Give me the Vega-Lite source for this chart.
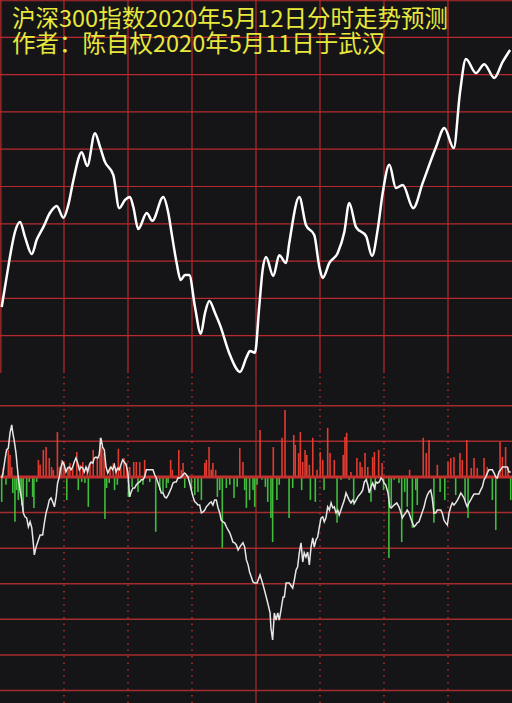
{
  "$schema": "https://vega.github.io/schema/vega-lite/v6.json",
  "background": "#151518",
  "padding": 0,
  "autosize": {"type": "none"},
  "width": 512,
  "height": 703,
  "config": {"view": {"stroke": null}},
  "title": {
    "text": "沪深300指数2020年5月12日分时走势预测",
    "subtitle": "作者：陈自权2020年5月11日于武汉",
    "anchor": "start", "orient": "top", "frame": "group",
    "offset": -57, "dx": 12,
    "font": "Noto Sans CJK SC", "fontSize": 23.5, "fontWeight": "normal", "color": "#e8e83c",
    "subtitleFont": "Noto Sans CJK SC", "subtitleFontSize": 23.5, "subtitleColor": "#e8e83c", "subtitlePadding": 1.5
  },
  "datasets": {
    "topV": [{"g": 0.4}, {"g": 30}, {"g": 60}, {"g": 90}, {"g": 120}, {"g": 150}, {"g": 180}, {"g": 210}],
    "topH": [{"g": 1}, {"g": 2}, {"g": 3}, {"g": 4}, {"g": 5}, {"g": 6}, {"g": 7}, {"g": 8}, {"g": 9}, {"g": 9.98}],
    "lowV": [{"g": 30}, {"g": 60}, {"g": 90}, {"g": 120}, {"g": 150}, {"g": 180}, {"g": 210}],
    "lowH": [{"g": -6}, {"g": -5}, {"g": -4}, {"g": -3}, {"g": -2}, {"g": -1}, {"g": 1}, {"g": 2}],
    "top": [
      {"t":0.8,"v":1.77},{"t":3.1,"v":2.57},{"t":5.5,"v":3.38},{"t":7.0,"v":3.78},{"t":9.4,"v":4.05},{"t":11.7,"v":3.65},{"t":14.9,"v":3.19},{"t":17.2,"v":3.57},{"t":20.3,"v":3.91},{"t":23.4,"v":4.29},{"t":26.6,"v":4.48},{"t":29.7,"v":4.16},{"t":32.0,"v":4.50},{"t":34.4,"v":5.17},{"t":38.3,"v":5.92},{"t":40.9,"v":5.55},{"t":44.5,"v":6.43},{"t":46.9,"v":6.06},{"t":49.2,"v":5.66},{"t":53.1,"v":5.31},{"t":55.9,"v":4.42},{"t":58.6,"v":4.64},{"t":60.9,"v":4.72},{"t":62.5,"v":4.45},{"t":64.8,"v":3.86},{"t":68.8,"v":4.29},{"t":71.4,"v":4.08},{"t":76.5,"v":4.72},{"t":78.9,"v":4.29},{"t":80.5,"v":3.73},{"t":82.8,"v":2.95},{"t":84.7,"v":2.49},{"t":86.7,"v":2.63},{"t":88.7,"v":2.63},{"t":91.4,"v":1.77},{"t":94.1,"v":1.05},{"t":96.1,"v":1.61},{"t":98.1,"v":1.93},{"t":100.8,"v":1.61},{"t":103.1,"v":1.29},{"t":107.8,"v":0.48},{"t":112.5,"v":0.03},{"t":115.6,"v":0.43},{"t":117.2,"v":0.59},{"t":119.5,"v":0.54},{"t":121.5,"v":1.77},{"t":123.1,"v":2.76},{"t":124.7,"v":3.11},{"t":128.1,"v":2.60},{"t":130.9,"v":3.16},{"t":134.1,"v":2.95},{"t":135.6,"v":3.49},{"t":140.3,"v":4.72},{"t":143.4,"v":3.97},{"t":147.3,"v":3.70},{"t":149.7,"v":2.84},{"t":151.3,"v":2.55},{"t":154.4,"v":2.95},{"t":158.3,"v":3.22},{"t":161.4,"v":3.78},{"t":163.7,"v":4.56},{"t":166.9,"v":3.91},{"t":171.6,"v":3.67},{"t":174.4,"v":3.14},{"t":177.0,"v":3.83},{"t":179.4,"v":4.83},{"t":182.5,"v":5.58},{"t":185.6,"v":4.96},{"t":188.8,"v":5.04},{"t":193.7,"v":4.42},{"t":198.1,"v":5.09},{"t":204.4,"v":6.06},{"t":208.3,"v":6.57},{"t":212.7,"v":6.03},{"t":215.6,"v":7.51},{"t":218.4,"v":8.42},{"t":223.1,"v":8.04},{"t":227.0,"v":8.28},{"t":231.7,"v":7.91},{"t":235.6,"v":8.34},{"t":239.1,"v":8.66}
    ],
    "bars": [
      {"t":1.5,"v":0.25},{"t":3.9,"v":0.76},{"t":4.7,"v":0.62},{"t":5.5,"v":0.28},{"t":18.0,"v":0.48},{"t":18.8,"v":0.34},{"t":20.3,"v":0.76},{"t":21.6,"v":0.84},{"t":23.1,"v":0.53},{"t":24.2,"v":0.28},{"t":25.0,"v":0.20},{"t":26.9,"v":1.26},{"t":27.8,"v":0.28},{"t":28.9,"v":0.48},{"t":30.0,"v":0.42},{"t":31.9,"v":0.28},{"t":32.8,"v":0.39},{"t":34.1,"v":0.25},{"t":36.0,"v":0.70},{"t":37.5,"v":0.34},{"t":38.8,"v":0.42},{"t":40.9,"v":0.28},{"t":42.2,"v":0.42},{"t":43.7,"v":0.76},{"t":45.6,"v":0.53},{"t":46.9,"v":1.10},{"t":47.7,"v":0.84},{"t":48.8,"v":0.67},{"t":51.6,"v":0.28},{"t":53.1,"v":0.39},{"t":54.4,"v":0.25},{"t":55.5,"v":0.79},{"t":56.6,"v":0.28},{"t":58.1,"v":0.53},{"t":59.4,"v":0.39},{"t":60.8,"v":0.28},{"t":62.7,"v":0.42},{"t":63.9,"v":0.42},{"t":65.5,"v":0.42},{"t":67.8,"v":0.48},{"t":80.0,"v":0.48},{"t":80.8,"v":0.20},{"t":83.8,"v":0.76},{"t":85.0,"v":0.20},{"t":85.8,"v":0.39},{"t":96.0,"v":0.39},{"t":96.7,"v":0.48},{"t":98.0,"v":0.84},{"t":99.0,"v":0.20},{"t":99.8,"v":0.39},{"t":101.1,"v":0.20},{"t":112.4,"v":0.81},{"t":113.9,"v":0.42},{"t":121.9,"v":1.32},{"t":128.1,"v":0.84},{"t":132.2,"v":1.10},{"t":133.6,"v":1.88},{"t":137.7,"v":1.18},{"t":138.4,"v":0.90},{"t":140.0,"v":0.67},{"t":140.8,"v":1.26},{"t":141.9,"v":0.42},{"t":143.0,"v":0.76},{"t":143.8,"v":0.62},{"t":145.0,"v":0.34},{"t":146.6,"v":1.10},{"t":148.6,"v":0.20},{"t":150.1,"v":0.70},{"t":151.3,"v":0.48},{"t":153.6,"v":1.38},{"t":154.7,"v":0.67},{"t":156.7,"v":0.48},{"t":160.9,"v":0.62},{"t":161.7,"v":1.12},{"t":162.5,"v":1.24},{"t":164.5,"v":0.14},{"t":167.3,"v":0.53},{"t":168.8,"v":0.42},{"t":169.7,"v":0.28},{"t":171.1,"v":0.67},{"t":172.4,"v":0.28},{"t":174.7,"v":0.56},{"t":175.5,"v":0.70},{"t":177.5,"v":0.76},{"t":179.1,"v":0.39},{"t":192.0,"v":0.20},{"t":198.4,"v":1.10},{"t":199.8,"v":0.67},{"t":201.1,"v":1.04},{"t":205.0,"v":0.34},{"t":210.0,"v":0.42},{"t":211.3,"v":0.53},{"t":212.8,"v":0.56},{"t":215.6,"v":0.67},{"t":216.7,"v":0.48},{"t":218.8,"v":1.04},{"t":220.9,"v":0.25},{"t":222.2,"v":0.53},{"t":223.7,"v":0.25},{"t":226.9,"v":0.53},{"t":228.4,"v":0.28},{"t":234.4,"v":0.98},{"t":235.5,"v":0.56},{"t":237.0,"v":0.84},{"t":238.1,"v":0.28},
      {"t":0.8,"v":-0.70},{"t":2.8,"v":-0.22},{"t":6.0,"v":-0.45},{"t":7.0,"v":-1.26},{"t":7.8,"v":-0.37},{"t":8.6,"v":-0.65},{"t":9.4,"v":-0.37},{"t":10.2,"v":-0.79},{"t":10.9,"v":-0.98},{"t":12.5,"v":-0.56},{"t":13.7,"v":-0.14},{"t":15.3,"v":-0.56},{"t":15.9,"v":-0.87},{"t":17.2,"v":-0.14},{"t":31.3,"v":-0.65},{"t":36.7,"v":-0.37},{"t":38.3,"v":-0.14},{"t":39.8,"v":-0.17},{"t":41.4,"v":-0.84},{"t":49.2,"v":-1.18},{"t":50.0,"v":-0.31},{"t":51.2,"v":-0.17},{"t":53.7,"v":-0.37},{"t":55.0,"v":-0.22},{"t":60.2,"v":-0.56},{"t":61.9,"v":-0.28},{"t":64.7,"v":-0.42},{"t":67.0,"v":-0.22},{"t":70.2,"v":-0.14},{"t":73.0,"v":-1.54},{"t":74.9,"v":-0.37},{"t":76.4,"v":-0.45},{"t":78.0,"v":-0.31},{"t":78.8,"v":-0.17},{"t":86.6,"v":-0.31},{"t":89.7,"v":-0.37},{"t":91.3,"v":-0.51},{"t":92.8,"v":-0.42},{"t":94.4,"v":-0.65},{"t":101.9,"v":-0.56},{"t":103.0,"v":-0.37},{"t":104.2,"v":-1.99},{"t":106.1,"v":-0.31},{"t":107.7,"v":-0.22},{"t":109.7,"v":-0.59},{"t":111.2,"v":-0.28},{"t":114.7,"v":-0.37},{"t":115.5,"v":-0.87},{"t":117.0,"v":-0.65},{"t":118.6,"v":-0.37},{"t":119.4,"v":-0.84},{"t":120.5,"v":-0.22},{"t":122.8,"v":-0.08},{"t":124.4,"v":-0.28},{"t":125.5,"v":-0.70},{"t":127.0,"v":-1.15},{"t":127.8,"v":-1.83},{"t":129.8,"v":-0.65},{"t":130.9,"v":-0.22},{"t":135.5,"v":-1.15},{"t":137.2,"v":-0.31},{"t":141.4,"v":-0.37},{"t":145.5,"v":-0.65},{"t":147.8,"v":-0.70},{"t":151.9,"v":-0.37},{"t":158.0,"v":-1.29},{"t":159.8,"v":-0.08},{"t":163.7,"v":-0.08},{"t":165.8,"v":-0.79},{"t":171.8,"v":-0.14},{"t":173.9,"v":-0.70},{"t":175.9,"v":-0.37},{"t":179.8,"v":-0.37},{"t":182.3,"v":-2.28},{"t":183.4,"v":-0.84},{"t":184.7,"v":-0.08},{"t":187.0,"v":-0.17},{"t":188.3,"v":-1.83},{"t":189.7,"v":-0.42},{"t":190.9,"v":-0.84},{"t":193.3,"v":-1.43},{"t":194.9,"v":-0.37},{"t":195.6,"v":-0.79},{"t":203.4,"v":-1.29},{"t":206.3,"v":-0.42},{"t":208.5,"v":-0.65},{"t":213.6,"v":-0.51},{"t":218.0,"v":-0.65},{"t":219.4,"v":-1.15},{"t":230.8,"v":-0.65},{"t":232.4,"v":-1.49},{"t":239.4,"v":-0.65}
    ],
    "low": [
      {"t":0.8,"v":-0.03},{"t":1.5,"v":0.14},{"t":2.3,"v":0.48},{"t":3.1,"v":0.76},{"t":3.9,"v":0.81},{"t":4.7,"v":1.24},{"t":5.5,"v":1.46},{"t":6.0,"v":1.24},{"t":6.6,"v":1.04},{"t":7.5,"v":0.67},{"t":8.1,"v":0.28},{"t":8.6,"v":-0.03},{"t":9.4,"v":-0.37},{"t":10.2,"v":-0.65},{"t":10.9,"v":-1.01},{"t":11.7,"v":-1.12},{"t":12.5,"v":-1.15},{"t":13.3,"v":-1.40},{"t":14.1,"v":-1.26},{"t":14.9,"v":-1.43},{"t":15.6,"v":-1.85},{"t":16.1,"v":-2.19},{"t":16.9,"v":-1.97},{"t":18.0,"v":-1.77},{"t":18.8,"v":-1.63},{"t":20.0,"v":-1.63},{"t":20.8,"v":-1.29},{"t":21.6,"v":-1.01},{"t":22.4,"v":-0.84},{"t":23.1,"v":-0.65},{"t":23.9,"v":-0.59},{"t":24.7,"v":-0.70},{"t":25.5,"v":-0.84},{"t":26.3,"v":-0.56},{"t":27.0,"v":-0.17},{"t":27.8,"v":0.00},{"t":28.6,"v":0.28},{"t":29.4,"v":0.42},{"t":30.1,"v":0.34},{"t":30.9,"v":0.14},{"t":31.7,"v":0.25},{"t":32.5,"v":0.28},{"t":33.3,"v":0.20},{"t":34.1,"v":0.28},{"t":34.8,"v":0.42},{"t":35.6,"v":0.53},{"t":36.4,"v":0.39},{"t":37.2,"v":0.20},{"t":38.0,"v":0.28},{"t":38.8,"v":0.25},{"t":39.5,"v":0.14},{"t":40.3,"v":0.28},{"t":41.1,"v":0.14},{"t":41.9,"v":0.34},{"t":42.7,"v":0.42},{"t":43.5,"v":0.39},{"t":44.2,"v":0.53},{"t":45.0,"v":0.56},{"t":45.8,"v":0.53},{"t":46.5,"v":0.62},{"t":47.3,"v":1.10},{"t":48.1,"v":0.84},{"t":48.9,"v":0.76},{"t":49.7,"v":0.28},{"t":50.5,"v":0.11},{"t":51.2,"v":0.20},{"t":52.0,"v":0.28},{"t":52.8,"v":0.20},{"t":53.6,"v":0.34},{"t":54.4,"v":0.14},{"t":55.2,"v":0.25},{"t":55.9,"v":0.20},{"t":56.7,"v":0.34},{"t":57.5,"v":0.48},{"t":58.3,"v":0.42},{"t":59.1,"v":0.34},{"t":59.9,"v":0.14},{"t":60.8,"v":-0.56},{"t":61.5,"v":-0.42},{"t":62.3,"v":-0.31},{"t":63.1,"v":-0.31},{"t":63.9,"v":-0.22},{"t":64.7,"v":-0.17},{"t":65.5,"v":-0.14},{"t":66.2,"v":-0.08},{"t":67.0,"v":-0.08},{"t":67.8,"v":0.00},{"t":68.6,"v":0.20},{"t":69.4,"v":0.20},{"t":71.7,"v":0.20},{"t":72.5,"v":0.06},{"t":73.3,"v":-0.03},{"t":74.1,"v":-0.17},{"t":74.9,"v":-0.31},{"t":75.6,"v":-0.45},{"t":76.4,"v":-0.45},{"t":77.2,"v":-0.56},{"t":78.0,"v":-0.59},{"t":78.8,"v":-0.51},{"t":79.5,"v":-0.42},{"t":80.3,"v":-0.31},{"t":81.1,"v":-0.17},{"t":81.9,"v":-0.14},{"t":82.6,"v":-0.14},{"t":83.4,"v":-0.03},{"t":84.2,"v":-0.03},{"t":85.0,"v":0.00},{"t":85.8,"v":0.06},{"t":86.6,"v":0.11},{"t":87.3,"v":0.06},{"t":88.1,"v":0.00},{"t":88.9,"v":-0.17},{"t":89.7,"v":-0.37},{"t":90.5,"v":-0.56},{"t":91.3,"v":-0.70},{"t":92.0,"v":-0.73},{"t":92.8,"v":-0.79},{"t":93.6,"v":-0.79},{"t":94.4,"v":-1.01},{"t":95.2,"v":-0.98},{"t":96.0,"v":-0.93},{"t":96.7,"v":-0.84},{"t":97.5,"v":-0.79},{"t":98.3,"v":-0.73},{"t":99.0,"v":-0.70},{"t":99.8,"v":-0.79},{"t":100.6,"v":-0.65},{"t":101.4,"v":-0.65},{"t":102.2,"v":-0.87},{"t":103.0,"v":-1.01},{"t":103.7,"v":-1.21},{"t":104.5,"v":-1.26},{"t":105.3,"v":-1.29},{"t":106.1,"v":-1.40},{"t":106.9,"v":-1.49},{"t":107.7,"v":-1.57},{"t":108.4,"v":-1.69},{"t":109.2,"v":-1.83},{"t":110.0,"v":-1.85},{"t":110.8,"v":-1.91},{"t":111.6,"v":-2.05},{"t":112.4,"v":-1.97},{"t":113.1,"v":-1.91},{"t":113.9,"v":-1.85},{"t":114.7,"v":-1.97},{"t":115.5,"v":-2.33},{"t":116.3,"v":-2.47},{"t":117.0,"v":-2.67},{"t":117.8,"v":-2.81},{"t":118.6,"v":-2.95},{"t":119.4,"v":-2.98},{"t":120.5,"v":-2.98},{"t":121.9,"v":-2.75},{"t":123.3,"v":-3.03},{"t":124.2,"v":-3.23},{"t":125.5,"v":-3.54},{"t":126.6,"v":-3.82},{"t":127.0,"v":-4.24},{"t":127.8,"v":-4.58},{"t":128.6,"v":-3.82},{"t":129.4,"v":-4.02},{"t":130.2,"v":-3.82},{"t":130.9,"v":-4.02},{"t":131.7,"v":-3.74},{"t":132.7,"v":-3.37},{"t":133.3,"v":-3.37},{"t":134.1,"v":-2.98},{"t":135.6,"v":-2.98},{"t":137.2,"v":-3.12},{"t":138.0,"v":-2.89},{"t":138.8,"v":-2.61},{"t":139.5,"v":-2.53},{"t":140.3,"v":-2.13},{"t":141.1,"v":-1.85},{"t":141.9,"v":-2.39},{"t":142.6,"v":-2.13},{"t":143.4,"v":-2.25},{"t":144.2,"v":-2.11},{"t":145.0,"v":-2.47},{"t":145.8,"v":-1.97},{"t":146.6,"v":-1.71},{"t":147.3,"v":-1.97},{"t":148.1,"v":-1.77},{"t":148.9,"v":-1.69},{"t":149.7,"v":-1.40},{"t":150.5,"v":-1.15},{"t":151.3,"v":-1.12},{"t":152.0,"v":-1.26},{"t":152.8,"v":-1.15},{"t":153.6,"v":-0.84},{"t":154.4,"v":-0.93},{"t":155.2,"v":-0.73},{"t":156.0,"v":-0.87},{"t":156.7,"v":-0.84},{"t":157.5,"v":-1.01},{"t":158.3,"v":-0.93},{"t":159.0,"v":-1.07},{"t":159.8,"v":-0.93},{"t":160.6,"v":-0.79},{"t":161.4,"v":-0.65},{"t":162.2,"v":-0.45},{"t":163.0,"v":-0.56},{"t":163.7,"v":-0.65},{"t":164.5,"v":-0.73},{"t":165.3,"v":-0.65},{"t":166.1,"v":-0.73},{"t":166.9,"v":-0.65},{"t":167.7,"v":-0.56},{"t":168.4,"v":-0.51},{"t":169.2,"v":-0.45},{"t":170.0,"v":-0.37},{"t":170.8,"v":-0.14},{"t":171.6,"v":-0.08},{"t":172.4,"v":-0.22},{"t":173.1,"v":-0.45},{"t":173.9,"v":-0.28},{"t":174.7,"v":-0.17},{"t":175.5,"v":-0.31},{"t":176.3,"v":-0.14},{"t":177.0,"v":-0.17},{"t":177.8,"v":-0.14},{"t":178.6,"v":-0.03},{"t":179.4,"v":-0.08},{"t":180.0,"v":-0.17},{"t":180.8,"v":-0.22},{"t":181.9,"v":-0.45},{"t":182.7,"v":-0.84},{"t":183.4,"v":-0.87},{"t":184.7,"v":-0.79},{"t":186.0,"v":-0.73},{"t":187.0,"v":-0.84},{"t":187.8,"v":-0.98},{"t":188.6,"v":-1.15},{"t":189.4,"v":-1.07},{"t":190.2,"v":-1.01},{"t":190.9,"v":-0.93},{"t":191.7,"v":-1.01},{"t":192.5,"v":-1.15},{"t":193.3,"v":-1.29},{"t":194.1,"v":-1.40},{"t":194.9,"v":-1.35},{"t":195.6,"v":-1.29},{"t":196.4,"v":-1.26},{"t":197.2,"v":-1.12},{"t":198.0,"v":-0.98},{"t":198.8,"v":-0.84},{"t":199.5,"v":-0.65},{"t":200.3,"v":-0.51},{"t":201.1,"v":-0.42},{"t":201.9,"v":-0.37},{"t":202.6,"v":-0.59},{"t":203.4,"v":-1.01},{"t":204.2,"v":-1.01},{"t":205.0,"v":-0.93},{"t":206.6,"v":-0.93},{"t":207.3,"v":-1.01},{"t":208.1,"v":-1.21},{"t":208.9,"v":-1.29},{"t":209.7,"v":-1.35},{"t":210.5,"v":-1.01},{"t":211.3,"v":-0.84},{"t":212.0,"v":-0.73},{"t":212.8,"v":-0.79},{"t":213.6,"v":-0.73},{"t":214.4,"v":-0.65},{"t":215.2,"v":-0.56},{"t":216.0,"v":-0.45},{"t":216.7,"v":-0.51},{"t":217.5,"v":-0.59},{"t":218.3,"v":-0.73},{"t":219.0,"v":-0.84},{"t":219.8,"v":-0.73},{"t":220.6,"v":-0.65},{"t":221.4,"v":-0.56},{"t":222.2,"v":-0.48},{"t":224.5,"v":-0.48},{"t":225.3,"v":-0.37},{"t":226.1,"v":-0.28},{"t":226.9,"v":-0.08},{"t":227.7,"v":0.00},{"t":228.4,"v":0.11},{"t":229.2,"v":0.20},{"t":230.8,"v":0.20},{"t":231.6,"v":0.11},{"t":232.4,"v":0.00},{"t":233.1,"v":-0.03},{"t":233.9,"v":0.14},{"t":234.7,"v":0.20},{"t":235.5,"v":0.28},{"t":237.8,"v":0.28},{"t":238.6,"v":0.14},{"t":239.4,"v":0.14}
    ],
    "zero": [{"v": 0}]
  },
  "resolve": {"scale": {"y": "independent"}},
  "layer": [
    {
      "layer": [
        {
          "data": {"name": "topV"},
          "mark": {"type": "rule", "color": "#b82a2d", "strokeWidth": 1.2},
          "encoding": {
            "x": {"field": "g", "type": "quantitative", "scale": {"domain": [0, 240], "nice": false, "zero": false}, "axis": null},
            "y": {"datum": 0, "type": "quantitative", "scale": {"domain": [0, 10], "range": [373, 0], "nice": false, "zero": false}, "axis": null},
            "y2": {"datum": 10}
          }
        },
        {
          "data": {"name": "topH"},
          "mark": {"type": "rule", "color": "#b82a2d", "strokeWidth": 1.2},
          "encoding": {"y": {"field": "g", "type": "quantitative", "axis": null}}
        },
        {
          "data": {"name": "top"},
          "mark": {"type": "line", "color": "#ffffff", "strokeWidth": 2.5, "interpolate": "monotone"},
          "encoding": {
            "x": {"field": "t", "type": "quantitative", "axis": null},
            "y": {"field": "v", "type": "quantitative", "axis": null}
          }
        }
      ]
    },
    {
      "layer": [
        {
          "data": {"name": "lowH"},
          "mark": {"type": "rule", "color": "#a62c2c", "strokeWidth": 1.5},
          "encoding": {"y": {"field": "g", "type": "quantitative", "scale": {"domain": [-6.35, 2.92], "range": [703, 373], "nice": false, "zero": false}, "axis": null}}
        },
        {
          "data": {"name": "lowV"},
          "mark": {"type": "rule", "color": "#a82c2c"},
          "encoding": {
            "x": {"field": "g", "type": "quantitative", "axis": null},
            "y": {"datum": -6.35, "type": "quantitative", "axis": null},
            "y2": {"datum": 2.92},
            "strokeDash": {"condition": {"test": "datum.g === 120", "value": [1, 0]}, "value": [1.5, 5]},
            "strokeWidth": {"condition": {"test": "datum.g === 120", "value": 1.2}, "value": 1.6}
          }
        },
        {
          "data": {"name": "bars"},
          "mark": {"type": "rule", "strokeWidth": 1.6},
          "encoding": {
            "x": {"field": "t", "type": "quantitative", "axis": null},
            "y": {"field": "v", "type": "quantitative", "axis": null},
            "y2": {"datum": 0},
            "color": {"condition": {"test": "datum.v > 0", "value": "#e23b2f"}, "value": "#3fbd3b"}
          }
        },
        {
          "data": {"name": "zero"},
          "mark": {"type": "rule", "color": "#c4302d", "strokeWidth": 3},
          "encoding": {"y": {"field": "v", "type": "quantitative", "axis": null}}
        },
        {
          "data": {"name": "low"},
          "mark": {"type": "line", "color": "#e6e6e6", "strokeWidth": 1.5},
          "encoding": {
            "x": {"field": "t", "type": "quantitative", "axis": null},
            "y": {"field": "v", "type": "quantitative", "axis": null}
          }
        }
      ]
    }
  ]
}
